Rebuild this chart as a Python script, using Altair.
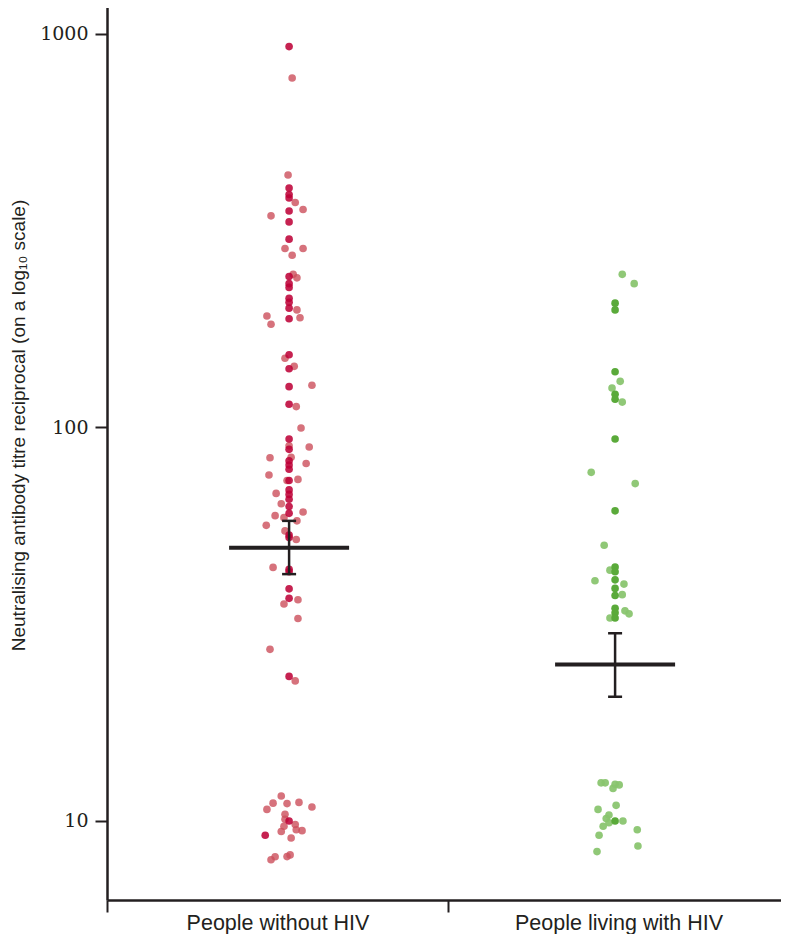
import altair as alt
import pandas as pd

categories = ["People without HIV", "People living with HIV"]
group_centre = [0.534, 1.49]

# People without HIV
g1_titre = [929, 773, 438, 406, 391, 383, 373, 358, 345, 355,
            333, 301, 285, 285, 274, 245, 242, 240, 232, 227,
            213, 208, 201, 199, 192, 190, 189, 183, 153, 150,
            141, 143, 127, 128, 114.6, 113, 99.7, 93.5, 89.2, 89.8,
            88, 83.8, 84, 82.3, 80.3, 78.3, 81, 75.7, 73.3, 73.3,
            73.8, 69.4, 68, 67.6, 65.7, 64, 63, 60.5, 61, 59.7,
            59, 57.9, 56.4, 54.6, 53.3, 52.5, 51.9, 44.1, 43.6, 43,
            38.9, 36.8, 35.6, 36.5, 32.7, 27.3, 23.3, 22.7, 11.57, 11.1,
            11.07, 11.15, 10.85, 10.7, 10.4, 10.0, 10.1, 9.8, 9.7, 9.5,
            9.45, 9.4, 9.2, 9.05, 8.11, 7.97, 8.12, 8.2]
g1_jitter = [0, 0.009, -0.003, 0, 0, 0, 0.018, 0.041, -0.053, 0,
             0, 0, -0.012, 0.041, 0.009, 0.012, 0, 0.023, 0, 0,
             0, 0, 0, 0.023, -0.065, 0.032, 0, -0.053, 0, -0.012,
             0, 0.015, 0, 0.067, 0, 0.021, 0.035, 0, 0.059, 0,
             0, -0.056, 0.006, 0, 0, 0, 0.050, -0.059, 0, -0.006,
             0.026, 0, -0.038, 0, 0, -0.023, 0, 0, 0.041, -0.041,
             -0.015, 0.023, -0.067, -0.012, 0, 0, 0.021, -0.047, 0, 0,
             0, 0, -0.015, 0.026, 0.026, -0.056, 0, 0.018, -0.023, -0.047,
             -0.006, 0.029, 0.067, -0.065, -0.012, 0, -0.012, 0.018, -0.015, 0.021,
             0.038, -0.023, -0.070, 0.006, -0.041, -0.053, -0.006, 0.003]
g1_shade = ["d", "l", "l", "d", "d", "d", "l", "l", "l", "d",
            "d", "d", "l", "l", "l", "l", "d", "l", "d", "d",
            "d", "d", "d", "l", "l", "l", "d", "l", "d", "l",
            "d", "l", "d", "l", "d", "l", "l", "d", "l", "l",
            "d", "l", "l", "d", "d", "d", "l", "l", "d", "l",
            "l", "d", "l", "d", "d", "l", "d", "d", "l", "l",
            "l", "l", "l", "l", "d", "d", "l", "l", "d", "d",
            "d", "d", "l", "l", "l", "l", "d", "l", "l", "l",
            "l", "l", "l", "l", "l", "d", "l", "l", "l", "l",
            "l", "l", "d", "l", "l", "l", "l", "l"]

# People living with HIV
g2_titre = [245, 232, 207, 199, 138.6, 131, 126, 121.5, 118, 116,
            93.5, 76.9, 72, 61.4, 50.2, 44.2, 43.4, 43, 40.8, 41,
            40, 39, 37.6, 37.4, 34.7, 33.8, 34.2, 33.6, 32.8, 32.8,
            12.5, 12.5, 12.4, 12.35, 12.1, 10.96, 10.7, 10.35, 10.15, 10.0,
            10.0, 9.9, 9.7, 9.5, 9.2, 8.64, 8.36]
g2_jitter = [0.021, 0.056, 0, 0, 0, 0.015, -0.009, 0, 0, 0.021,
             0, -0.070, 0.059, 0, -0.032, 0, -0.015, 0, -0.059, 0,
             0.026, 0, 0.021, 0, 0, 0, 0.029, 0.041, -0.015, 0,
             -0.041, -0.029, 0, 0.012, -0.006, 0.003, -0.050, -0.018, -0.026, 0,
             0.023, -0.018, -0.035, 0.065, -0.047, 0.067, -0.053]
g2_shade = ["l", "l", "d", "d", "d", "l", "l", "d", "d", "l",
            "d", "l", "l", "d", "l", "d", "l", "d", "l", "d",
            "l", "d", "l", "d", "d", "d", "l", "l", "l", "d",
            "l", "l", "l", "l", "l", "l", "l", "l", "l", "d",
            "l", "l", "l", "l", "l", "l", "l"]

# geometric mean and 95% CI
gm_mean = [49.5, 25.0]
gm_low = [42.4, 20.7]
gm_high = [57.9, 30.0]

y_ticks = [10, 100, 1000]
y_title = "Neutralising antibody titre reciprocal (on a log\u2081\u2080 scale)"

INK = "#231f20"
PLOT_W = 674
PLOT_H = 900
X_MAX = 2 * PLOT_W / 682  # the picture is cut just before the right end of the axis

rows = []
for gi, (vals, jit, sh) in enumerate([(g1_titre, g1_jitter, g1_shade),
                                      (g2_titre, g2_jitter, g2_shade)]):
    for v, j, s in zip(vals, jit, sh):
        rows.append({"x": group_centre[gi] + j, "titre": v, "key": f"{gi}{s}"})
points = pd.DataFrame(rows)
points["order"] = points["key"].str.endswith("d").astype(int)
points = points.sort_values("order", kind="stable")

summary = pd.DataFrame({"x": group_centre, "titre": gm_mean, "lo": gm_low, "hi": gm_high})
caps = pd.DataFrame({"x": group_centre * 2, "titre": gm_low + gm_high})

label_expr = (f"datum.value == 0.5 ? '{categories[0]}' : "
              f"datum.value == 1.5 ? '{categories[1]}' : ''")

x_enc = dict(
    scale=alt.Scale(domain=[0, X_MAX], nice=False, zero=False),
    axis=alt.Axis(values=[0, 0.5, 1, 1.5, 2], labelExpr=label_expr, title=None,
                  grid=False, tickSize=12, tickWidth=2,
                  tickOpacity={"condition": {"test": "datum.value % 1 == 0", "value": 1}, "value": 0},
                  labelFont="Liberation Sans", labelFontSize=21.5, labelColor=INK,
                  labelPadding=0, labelOverlap=False, labelFlush=False, labelLimit=0,
                  domainColor=INK, domainWidth=2.5, tickColor=INK),
)
y_enc = dict(
    scale=alt.Scale(type="log", domain=[6.298, 1220], nice=False, zero=False),
    axis=alt.Axis(values=y_ticks, format="d", title=y_title, grid=False,
                  tickSize=12, tickWidth=2, tickColor=INK,
                  labelFont="DejaVu Serif", labelFontSize=19, labelColor=INK,
                  labelPadding=7, titleFont="Liberation Sans", titleFontSize=19,
                  titleFontWeight="normal", titleColor=INK, titlePadding=11,
                  titleY=425,
                  domainColor=INK, domainWidth=2.5),
)

pts = alt.Chart(points).mark_point(filled=True, size=58, strokeWidth=0).encode(
    x=alt.X("x:Q", **x_enc),
    y=alt.Y("titre:Q", **y_enc),
    color=alt.Color("key:N", legend=None,
                    scale=alt.Scale(domain=["0l", "0d", "1l", "1d"],
                                    range=["#CC4F5B", "#BD0036", "#88C46D", "#5AAA3A"])),
    opacity=alt.Opacity("key:N", legend=None,
                        scale=alt.Scale(domain=["0l", "0d", "1l", "1d"],
                                        range=[0.8, 1, 0.8, 1])),
    order=alt.Order("order:Q"),
)

mean_bar = alt.Chart(summary).mark_tick(orient="horizontal", size=120, thickness=4,
                                        color=INK, opacity=1).encode(
    x=alt.X("x:Q", **x_enc), y=alt.Y("titre:Q", **y_enc))

ci = alt.Chart(summary).mark_rule(strokeWidth=2.5, color=INK, opacity=1).encode(
    x=alt.X("x:Q", **x_enc), y=alt.Y("lo:Q", **y_enc), y2="hi:Q")

cap = alt.Chart(caps).mark_tick(orient="horizontal", size=14, thickness=2.5,
                                color=INK, opacity=1).encode(
    x=alt.X("x:Q", **x_enc), y=alt.Y("titre:Q", **y_enc))

chart = alt.layer(pts, ci, cap, mean_bar).properties(
    width=PLOT_W, height=PLOT_H,
    autosize=alt.AutoSizeParams(type="none"),
    padding={"left": 99, "top": -8, "right": 0, "bottom": 34},
).configure_view(stroke=None).configure(background="white")

chart.save("out.html", embed_options={"renderer": "svg", "actions": False})
